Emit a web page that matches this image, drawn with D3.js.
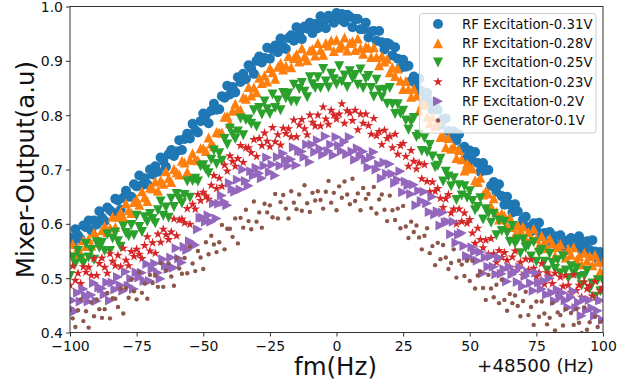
<!DOCTYPE html>
<html>
<head>
<meta charset="utf-8">
<script src="https://cdn.jsdelivr.net/npm/d3@7"></script>
<style>
  html, body { margin: 0; padding: 0; background: #fff; }
  svg { display: block; font-family: "DejaVu Sans", sans-serif; }
</style>
</head>
<body>
<svg id="chart" width="628" height="385"></svg>
<script>
// ---------------- DATA ----------------
const fm = [
-100,-99,-98,-97,-96,-95,-94,-93,-92,-91,-90,-89,-88,-87,-86,-85,-84,-83,-82,-81,
-80,-79,-78,-77,-76,-75,-74,-73,-72,-71,-70,-69,-68,-67,-66,-65,-64,-63,-62,-61,
-60,-59,-58,-57,-56,-55,-54,-53,-52,-51,-50,-49,-48,-47,-46,-45,-44,-43,-42,-41,
-40,-39,-38,-37,-36,-35,-34,-33,-32,-31,-30,-29,-28,-27,-26,-25,-24,-23,-22,-21,
-20,-19,-18,-17,-16,-15,-14,-13,-12,-11,-10,-9,-8,-7,-6,-5,-4,-3,-2,-1,
0,1,2,3,4,5,6,7,8,9,10,11,12,13,14,15,16,17,18,19,
20,21,22,23,24,25,26,27,28,29,30,31,32,33,34,35,36,37,38,39,
40,41,42,43,44,45,46,47,48,49,50,51,52,53,54,55,56,57,58,59,
60,61,62,63,64,65,66,67,68,69,70,71,72,73,74,75,76,77,78,79,
80,81,82,83,84,85,86,87,88,89,90,91,92,93,94,95,96,97,98,99,100];

const rf031 = [
0.575,0.565,0.590,0.579,0.572, 0.597,0.594,0.606,0.588,0.606,
0.599,0.623,0.611,0.605,0.630, 0.625,0.621,0.646,0.643,0.626,
0.648,0.661,0.650,0.650,0.673, 0.669,0.689,0.671,0.684,0.673,
0.700,0.691,0.706,0.696,0.722, 0.716,0.705,0.728,0.736,0.725,
0.733,0.754,0.736,0.756,0.766, 0.757,0.784,0.772,0.768,0.789,
0.803,0.801,0.785,0.808,0.821, 0.810,0.811,0.835,0.832,0.854,
0.838,0.852,0.842,0.870,0.861, 0.876,0.866,0.892,0.886,0.876,
0.900,0.908,0.897,0.905,0.924, 0.904,0.921,0.928,0.916,0.941,
0.927,0.922,0.942,0.947,0.937, 0.962,0.949,0.940,0.963,0.959,
0.970,0.951,0.968,0.960,0.982, 0.968,0.960,0.983,0.976,0.970,
0.988,0.976,0.986,0.971,0.985, 0.981,0.962,0.977,0.977,0.958,
0.958,0.970,0.943,0.954,0.955, 0.937,0.955,0.934,0.921,0.933,
0.930,0.910,0.925,0.904,0.887, 0.902,0.889,0.891,0.863,0.871,
0.854,0.867,0.844,0.827,0.841, 0.825,0.810,0.824,0.810,0.782,
0.793,0.794,0.771,0.759,0.770, 0.754,0.765,0.738,0.742,0.722,
0.735,0.716,0.732,0.712,0.696, 0.712,0.698,0.699,0.670,0.677,
0.659,0.673,0.651,0.635,0.650, 0.635,0.621,0.636,0.623,0.596,
0.608,0.613,0.594,0.586,0.601, 0.589,0.602,0.577,0.583,0.565,
0.585,0.569,0.577,0.560,0.579, 0.566,0.551,0.570,0.574,0.559,
0.563,0.577,0.552,0.565,0.568, 0.552,0.570,0.549,0.536,0.548,
0.545];

const rf028 = [
0.544,0.563,0.544,0.556,0.544, 0.570,0.559,0.572,0.560,0.584,
0.576,0.565,0.588,0.596,0.585, 0.593,0.613,0.594,0.613,0.622,
0.612,0.638,0.625,0.620,0.640, 0.645,0.635,0.660,0.649,0.642,
0.667,0.665,0.678,0.661,0.680, 0.674,0.697,0.684,0.677,0.701,
0.695,0.691,0.716,0.713,0.696, 0.718,0.730,0.718,0.717,0.739,
0.739,0.734,0.759,0.748,0.743, 0.769,0.768,0.768,0.797,0.798,
0.785,0.808,0.821,0.810,0.810, 0.833,0.830,0.852,0.836,0.851,
0.842,0.869,0.859,0.873,0.862, 0.887,0.879,0.867,0.889,0.896,
0.884,0.891,0.909,0.888,0.905, 0.912,0.899,0.923,0.908,0.901,
0.919,0.922,0.910,0.933,0.920, 0.911,0.933,0.928,0.938,0.918,
0.939,0.924,0.928,0.943,0.919, 0.933,0.936,0.920,0.941,0.923,
0.913,0.926,0.924,0.907,0.925, 0.907,0.892,0.909,0.899,0.904,
0.879,0.888,0.872,0.886,0.864, 0.848,0.863,0.848,0.834,0.849,
0.836,0.808,0.819,0.820,0.797, 0.785,0.796,0.780,0.789,0.760,
0.762,0.741,0.758,0.738,0.742, 0.721,0.736,0.719,0.698,0.711,
0.705,0.702,0.680,0.677,0.685, 0.654,0.660,0.656,0.633,0.647,
0.622,0.608,0.619,0.615,0.596, 0.612,0.594,0.580,0.598,0.589,
0.595,0.572,0.585,0.573,0.591, 0.573,0.560,0.578,0.566,0.555,
0.573,0.564,0.541,0.557,0.563, 0.545,0.538,0.554,0.543,0.557,
0.533,0.541,0.525,0.547,0.532, 0.541,0.524,0.543,0.530,0.513,
0.530];

const rf025 = [
0.504,0.538,0.526,0.550,0.536, 0.527,0.563,0.538,0.552,0.534,
0.566,0.556,0.565,0.550,0.581, 0.550,0.573,0.584,0.568,0.558,
0.595,0.583,0.577,0.598,0.579, 0.615,0.594,0.585,0.612,0.604,
0.618,0.609,0.601,0.625,0.641, 0.615,0.630,0.611,0.646,0.631,
0.655,0.646,0.638,0.653,0.678, 0.648,0.679,0.683,0.678,0.706,
0.708,0.700,0.693,0.718,0.735, 0.710,0.730,0.716,0.756,0.746,
0.775,0.765,0.756,0.770,0.794, 0.763,0.791,0.792,0.784,0.809,
0.779,0.813,0.801,0.825,0.811, 0.802,0.838,0.813,0.827,0.809,
0.841,0.831,0.840,0.825,0.856, 0.825,0.848,0.859,0.843,0.833,
0.870,0.857,0.850,0.870,0.850, 0.885,0.862,0.851,0.876,0.866,
0.857,0.890,0.862,0.873,0.852, 0.881,0.868,0.874,0.856,0.884,
0.850,0.867,0.872,0.850,0.834, 0.865,0.846,0.833,0.847,0.821,
0.850,0.820,0.802,0.820,0.803, 0.808,0.790,0.773,0.788,0.795,
0.760,0.764,0.734,0.758,0.732, 0.745,0.724,0.704,0.707,0.720,
0.678,0.696,0.687,0.669,0.684, 0.644,0.671,0.652,0.669,0.648,
0.660,0.642,0.625,0.631,0.647, 0.608,0.627,0.619,0.602,0.618,
0.579,0.606,0.587,0.604,0.583, 0.567,0.596,0.564,0.571,0.546,
0.571,0.556,0.560,0.540,0.566, 0.530,0.547,0.552,0.530,0.514,
0.545,0.528,0.517,0.533,0.509, 0.540,0.514,0.500,0.522,0.509,
0.518,0.502,0.487,0.504,0.513, 0.480,0.490,0.466,0.496,0.476,
0.495];

const rf023 = [
0.487,0.522,0.496,0.509,0.490, 0.521,0.511,0.520,0.505,0.536,
0.505,0.527,0.537,0.520,0.509, 0.545,0.531,0.523,0.542,0.521,
0.555,0.533,0.523,0.549,0.540, 0.553,0.544,0.536,0.560,0.576,
0.550,0.565,0.546,0.581,0.566, 0.590,0.580,0.571,0.585,0.609,
0.578,0.607,0.609,0.602,0.628, 0.599,0.636,0.627,0.654,0.643,
0.658,0.651,0.645,0.671,0.689, 0.665,0.684,0.669,0.708,0.697,
0.725,0.715,0.706,0.720,0.744, 0.713,0.740,0.740,0.731,0.755,
0.724,0.757,0.744,0.767,0.752, 0.742,0.777,0.751,0.764,0.745,
0.776,0.766,0.775,0.760,0.791, 0.760,0.782,0.792,0.775,0.764,
0.800,0.787,0.780,0.800,0.780, 0.815,0.793,0.783,0.809,0.800,
0.793,0.802,0.821,0.785,0.808, 0.804,0.790,0.809,0.773,0.802,
0.785,0.802,0.781,0.765,0.794, 0.762,0.770,0.746,0.772,0.757,
0.761,0.740,0.765,0.728,0.744, 0.748,0.724,0.706,0.735,0.715,
0.701,0.712,0.683,0.709,0.678, 0.659,0.677,0.660,0.665,0.647,
0.630,0.646,0.654,0.620,0.627, 0.600,0.627,0.604,0.620,0.601,
0.608,0.583,0.564,0.592,0.571, 0.556,0.570,0.544,0.573,0.545,
0.529,0.551,0.538,0.547,0.533, 0.520,0.539,0.550,0.519,0.529,
0.505,0.535,0.515,0.534,0.518, 0.503,0.510,0.527,0.489,0.510,
0.504,0.490,0.509,0.473,0.502, 0.485,0.505,0.487,0.474,0.506,
0.477,0.487,0.465,0.493,0.480, 0.486,0.467,0.494,0.459,0.477,
0.483];

const rf020 = [
0.445,0.459,0.439,0.473,0.457, 0.480,0.468,0.457,0.469,0.491,
0.458,0.483,0.481,0.470,0.492, 0.459,0.492,0.479,0.502,0.487,
0.477,0.512,0.486,0.499,0.480, 0.511,0.501,0.510,0.495,0.526,
0.495,0.517,0.527,0.510,0.499, 0.535,0.523,0.517,0.538,0.519,
0.555,0.536,0.529,0.558,0.552, 0.568,0.564,0.561,0.590,0.611,
0.611,0.604,0.616,0.604,0.638, 0.610,0.637,0.652,0.640,0.634,
0.675,0.664,0.659,0.681,0.663, 0.700,0.679,0.670,0.697,0.689,
0.703,0.693,0.684,0.707,0.722, 0.695,0.709,0.689,0.723,0.707,
0.730,0.718,0.707,0.719,0.741, 0.708,0.734,0.733,0.723,0.746,
0.714,0.746,0.732,0.754,0.738, 0.727,0.761,0.734,0.746,0.726,
0.760,0.744,0.734,0.751,0.728, 0.760,0.733,0.718,0.739,0.725,
0.733,0.718,0.704,0.722,0.732, 0.700,0.709,0.684,0.713,0.692,
0.710,0.692,0.675,0.681,0.697, 0.658,0.678,0.671,0.655,0.672,
0.634,0.661,0.642,0.659,0.638, 0.622,0.650,0.617,0.623,0.597,
0.621,0.603,0.604,0.581,0.604, 0.565,0.580,0.583,0.559,0.541,
0.538,0.557,0.549,0.532,0.548, 0.509,0.538,0.521,0.540,0.521,
0.507,0.538,0.508,0.517,0.494, 0.521,0.507,0.512,0.493,0.520,
0.485,0.504,0.511,0.491,0.477, 0.510,0.492,0.480,0.495,0.470,
0.500,0.473,0.458,0.479,0.465, 0.473,0.459,0.446,0.465,0.476,
0.445,0.455,0.431,0.461,0.441, 0.460,0.445,0.431,0.440,0.459,
0.423];

const gen010 = [
0.442,0.426,0.410,0.441,0.461, 0.421,0.439,0.409,0.455,0.430,
0.461,0.443,0.427,0.443,0.473, 0.426,0.463,0.462,0.447,0.481,
0.435,0.482,0.464,0.497,0.476, 0.461,0.511,0.473,0.490,0.462,
0.506,0.491,0.505,0.484,0.528, 0.484,0.514,0.527,0.503,0.486,
0.537,0.518,0.508,0.537,0.509, 0.558,0.527,0.513,0.550,0.538,
0.517,0.566,0.544,0.578,0.562, 0.548,0.566,0.598,0.553,0.591,
0.591,0.576,0.610,0.564,0.611, 0.593,0.626,0.605,0.590,0.641,
0.604,0.621,0.593,0.637,0.621, 0.634,0.612,0.655,0.610,0.640,
0.653,0.628,0.610,0.660,0.639, 0.627,0.654,0.624,0.671,0.638,
0.622,0.657,0.643,0.660,0.644, 0.628,0.659,0.679,0.639,0.657,
0.625,0.669,0.648,0.678,0.654, 0.636,0.683,0.642,0.656,0.625,
0.666,0.646,0.655,0.629,0.668, 0.619,0.645,0.654,0.626,0.605,
0.652,0.625,0.607,0.628,0.592, 0.633,0.595,0.574,0.604,0.585,
0.597,0.575,0.553,0.578,0.592, 0.546,0.559,0.524,0.565,0.535,
0.561,0.538,0.517,0.528,0.553, 0.501,0.532,0.525,0.504,0.532,
0.495,0.532,0.481,0.505,0.512, 0.482,0.460,0.506,0.481,0.465,
0.488,0.454,0.497,0.460,0.440, 0.471,0.454,0.468,0.449,0.430,
0.458,0.475,0.432,0.447,0.414, 0.457,0.429,0.457,0.435,0.415,
0.427,0.454,0.404,0.437,0.432, 0.413,0.443,0.393,0.436,0.414,
0.443,0.418,0.399,0.446,0.405, 0.419,0.388,0.429,0.410,0.420,
0.395];

const seriesNames = ["RF Excitation-0.31V","RF Excitation-0.28V","RF Excitation-0.25V",
                     "RF Excitation-0.23V","RF Excitation-0.2V","RF Generator-0.1V"];
const seriesValues = [rf031, rf028, rf025, rf023, rf020, gen010];
const xTicks = [-100,-75,-50,-25,0,25,50,75,100];
const yTicks = [0.4,0.5,0.6,0.7,0.8,0.9,1.0];
const xLabel = "fm(Hz)";
const yLabel = "Mixer-Output(a.u)";
const offsetLabel = "+48500 (Hz)";

// ---------------- STYLE ----------------
const colors = ["#1f77b4","#ff7f0e","#2ca02c","#d62728","#9467bd","#8c564b"];
const markers = ["circle","triUp","triDown","star","triRight","point"];

const svg = d3.select("#chart");
const L = 70, R = 603, T = 6.5, B = 332.5;
const x = d3.scaleLinear().domain([-100,100]).range([L,R]);
const y = d3.scaleLinear().domain([0.4,1.0]).range([B,T]);

function markerPath(kind){
  const r = 5;
  switch(kind){
    case "circle": return d3.symbol(d3.symbolCircle, Math.PI*5*5)();
    case "triUp": return `M0,${-r}L${r},${r}L${-r},${r}Z`;
    case "triDown": return `M0,${r}L${r},${-r}L${-r},${-r}Z`;
    case "triRight": return `M${r},0L${-r},${-r}L${-r},${r}Z`;
    case "star": {
      const ro = 5, ri = 5*0.381966; let p = "";
      for(let i=0;i<10;i++){
        const a = -Math.PI/2 + i*Math.PI/5;
        const rr = i%2===0 ? ro : ri;
        p += (i===0?"M":"L") + (rr*Math.cos(a)).toFixed(3) + "," + (rr*Math.sin(a)).toFixed(3);
      }
      return p + "Z";
    }
    case "point": return d3.symbol(d3.symbolCircle, Math.PI*2.2*2.2)();
  }
}

svg.append("defs").append("clipPath").attr("id","plotclip")
  .append("rect").attr("x",L).attr("y",T).attr("width",R-L).attr("height",B-T);

const plot = svg.append("g").attr("clip-path","url(#plotclip)");
seriesValues.forEach((vals, si) => {
  const path = markerPath(markers[si]);
  plot.append("g").selectAll("path").data(vals).join("path")
    .attr("d", path)
    .attr("transform", (d,i) => `translate(${x(fm[i])},${y(d)})`)
    .attr("fill", colors[si]);
});

// axes
const axisColor = "#333";
const xAxis = d3.axisBottom(x).tickValues(xTicks).tickSizeOuter(0).tickSize(4)
  .tickFormat(d => (d<0 ? "\u2212" + Math.abs(d) : String(d)));
const yAxis = d3.axisLeft(y).tickValues(yTicks).tickSizeOuter(0).tickSize(4)
  .tickFormat(d3.format(".1f"));

const gx = svg.append("g").attr("transform",`translate(0,${B})`).call(xAxis);
const gy = svg.append("g").attr("transform",`translate(${L},0)`).call(yAxis);
[gx,gy].forEach(g=>{
  g.select(".domain").remove();
  g.selectAll(".tick line").attr("stroke",axisColor).attr("stroke-width",1);
  g.selectAll(".tick text").attr("fill","#111").style("font-size","14px")
    .style("font-family","'DejaVu Sans', sans-serif");
});
gx.selectAll(".tick text").attr("y",null).attr("dy",null).attr("y",18);
gy.selectAll(".tick text").attr("x",-7).attr("dy","0.36em");

// spines
svg.append("rect").attr("x",L).attr("y",T).attr("width",R-L).attr("height",B-T)
  .attr("fill","none").attr("stroke",axisColor).attr("stroke-width",1);

// labels
svg.append("text").attr("x",335.5).attr("y",375).attr("text-anchor","middle")
  .style("font-size","24.5px").attr("fill","#111").text(xLabel);
svg.append("text").attr("transform","translate(34,169.5) rotate(-90)")
  .attr("text-anchor","middle").style("font-size","24.5px").attr("fill","#111").text(yLabel);
svg.append("text").attr("x",594).attr("y",371.5).attr("text-anchor","end")
  .style("font-size","18.3px").attr("fill","#111").text(offsetLabel);

// legend
const lg = svg.append("g");
lg.append("rect").attr("x",419.5).attr("y",13.5).attr("width",176.5).attr("height",119.5)
  .attr("rx",3).attr("fill","#fff").attr("fill-opacity",0.8)
  .attr("stroke","#cccccc").attr("stroke-width",1);
seriesNames.forEach((name, i) => {
  const cy = 24 + i*19.3;
  lg.append("path").attr("d", markerPath(markers[i]))
    .attr("transform",`translate(438,${cy})`).attr("fill",colors[i]);
  lg.append("text").attr("x",462).attr("y",cy+4.8)
    .style("font-size","13.3px").attr("fill","#111").text(name);
});
</script>
</body>
</html>
